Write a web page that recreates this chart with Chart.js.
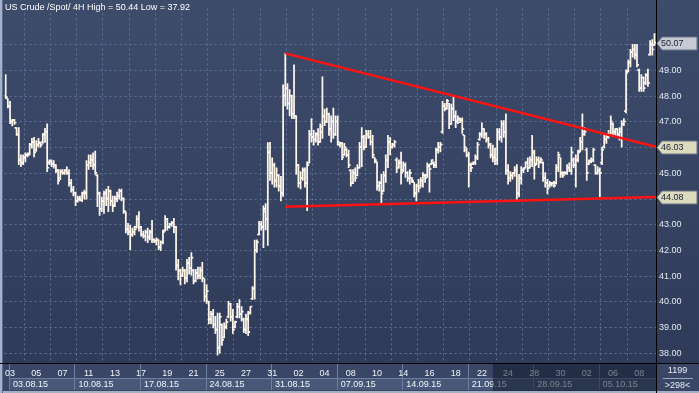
<!DOCTYPE html>
<html>
<head>
<meta charset="utf-8">
<script src="https://cdn.jsdelivr.net/npm/chart.js@4.4.0/dist/chart.umd.min.js"></script>
<style>
  html, body { margin: 0; padding: 0; background: #36435f; }
  #wrap { width: 699px; height: 393px; position: relative; }
</style>
</head>
<body>
<div id="wrap"><canvas id="grafik"></canvas></div>
<script>
// 4H bars: 2 bars of 31.07, then 6 bars per trading day
const preBars = 2;
const barsPerDay = 6;

const dayNames = ["03","04","05","06","07","10","11","12","13","14","17","18","19","20","21",
  "24","25","26","27","28","31","01","02","03","04","07","08","09","10","11",
  "14","15","16","17","18","21","22","23","24","25","28","29","30","01","02",
  "05","06","07","08"];
const weekNames = ["03.08.15","10.08.15","17.08.15","24.08.15","31.08.15",
  "07.09.15","14.09.15","21.09.15","28.09.15","05.10.15"];
const yTicks = [38, 39, 40, 41, 42, 43, 44, 45, 46, 47, 48, 49, 50];

const opens = [
48.00,47.90,47.60,47.00,47.05,46.75,46.50,45.50,45.40,45.60,
45.70,45.75,46.10,46.20,45.90,46.10,46.15,46.20,46.50,46.60,
45.40,45.45,45.35,45.30,45.10,44.80,45.05,45.00,45.10,45.00,
44.60,44.35,44.20,43.90,44.00,43.95,44.20,44.20,45.30,45.40,
45.50,45.30,44.90,44.20,43.60,43.90,44.20,44.00,44.30,43.90,
43.75,44.00,44.10,44.30,44.00,43.50,42.80,42.70,42.60,42.70,
42.90,43.20,42.90,42.60,42.55,42.70,42.50,42.70,42.40,42.35,
42.40,42.10,42.30,42.75,43.20,42.90,43.00,43.05,42.90,41.40,
41.20,41.00,41.20,40.90,41.50,41.30,41.20,40.80,41.10,41.00,
41.20,40.90,40.20,40.00,39.30,39.50,39.10,38.90,38.20,39.10,
38.60,39.00,39.40,39.90,39.40,39.00,39.40,39.80,39.50,39.30,
38.90,39.30,39.55,40.10,40.50,42.00,42.60,43.00,42.90,43.50,
43.20,45.80,45.00,45.30,44.70,44.90,44.50,44.20,48.00,48.30,
47.70,48.00,47.30,47.20,45.30,44.60,44.80,45.10,44.60,45.40,
46.50,46.40,46.30,46.50,46.20,46.60,47.20,47.00,47.30,46.70,
47.00,46.50,47.00,46.10,46.15,45.70,45.90,45.70,45.10,44.60,
45.00,44.90,45.20,46.00,46.40,46.00,46.50,46.40,46.20,45.60,
45.45,44.50,44.60,44.30,44.90,45.50,46.20,46.00,46.10,45.50,
45.20,45.40,45.10,45.30,45.00,44.80,44.80,44.65,44.20,44.50,
44.50,44.70,44.90,44.90,45.25,45.35,45.40,45.30,45.90,46.00,
46.60,47.60,47.50,47.70,46.90,47.50,47.20,47.00,47.10,47.05,
46.48,45.90,45.70,45.30,45.35,45.40,45.60,46.30,46.50,46.70,
46.50,46.30,46.10,45.70,45.60,45.50,46.60,46.40,46.90,46.60,
45.10,44.80,44.90,45.00,45.10,44.20,44.80,45.10,45.20,45.40,
45.20,45.50,45.80,45.35,45.50,45.45,45.40,44.80,44.60,44.50,
44.55,44.60,44.60,45.20,45.60,44.95,45.00,45.00,45.20,45.10,
45.50,45.30,45.50,45.85,46.20,46.60,45.90,45.35,45.45,45.50,
45.30,45.00,45.10,45.40,46.00,46.30,46.40,46.50,46.90,46.60,
46.70,46.50,46.60,46.90,47.40,48.95,49.30,49.70,49.80,49.60,
49.00,48.30,48.70,48.50,48.80,49.60,50.00,49.98
];
const highs = [
48.84,47.90,47.80,47.10,47.10,46.78,46.78,45.72,45.72,45.80,
45.80,46.17,46.36,46.40,46.28,46.36,46.20,46.55,46.75,46.93,
45.53,45.53,45.50,45.34,45.15,45.15,45.15,45.15,45.25,45.15,
44.77,44.50,44.27,44.12,44.12,44.27,44.35,45.50,45.72,45.72,
45.80,45.87,44.95,44.27,44.08,44.31,44.39,44.50,44.35,44.12,
44.12,44.27,44.39,44.39,44.05,43.50,43.06,42.98,42.87,42.94,
43.36,43.51,42.94,42.75,42.79,42.87,42.79,43.17,42.45,42.49,
42.41,42.37,42.79,43.36,43.25,43.06,43.13,43.25,42.94,41.65,
41.27,41.35,41.27,41.65,41.73,41.92,41.27,41.27,41.35,41.35,
41.54,40.90,40.66,40.02,39.63,39.71,39.44,39.56,39.56,39.14,
39.18,39.33,40.02,39.94,39.71,39.25,39.94,40.09,39.82,39.37,
39.52,39.63,39.82,40.59,42.40,42.41,43.13,43.13,43.74,43.82,
46.20,46.21,45.60,45.40,45.22,44.95,44.88,48.45,49.67,48.49,
48.26,48.05,49.22,47.25,45.35,45.07,45.22,45.22,45.45,46.67,
47.13,46.67,46.59,46.74,46.93,48.76,47.50,47.54,47.35,47.24,
47.54,47.24,47.24,46.21,46.21,46.17,45.98,45.91,45.15,45.15,
45.22,45.34,46.21,46.78,46.48,46.67,46.67,46.67,46.48,45.60,
45.45,44.69,44.96,45.07,45.72,46.48,46.40,46.17,46.29,45.60,
45.53,45.83,45.45,45.41,45.07,45.15,44.84,44.65,44.58,44.77,
44.84,45.03,44.96,45.41,45.34,45.53,45.45,45.98,46.21,46.21,
47.80,47.73,47.88,47.73,47.70,48.00,47.43,47.24,47.16,47.16,
46.48,45.98,45.83,45.41,45.45,45.72,46.21,46.59,46.97,46.74,
46.59,46.40,46.17,46.10,45.98,46.74,46.74,47.05,47.05,47.32,
45.34,45.07,45.03,45.26,45.34,44.96,45.26,45.22,45.45,45.60,
45.64,46.48,45.91,45.64,45.64,45.60,45.45,45.03,44.77,44.69,
44.65,44.69,45.34,45.83,45.60,45.07,45.07,45.34,45.41,46.02,
45.60,45.72,45.91,46.40,47.32,46.78,45.98,45.53,45.60,45.98,
45.34,45.26,45.22,46.02,46.48,46.55,46.67,47.24,46.97,46.74,
46.74,46.78,47.05,47.13,49.03,49.41,49.83,50.02,50.02,50.02,
49.06,48.84,48.76,48.88,49.06,50.17,50.21,50.44
];
const lows = [
47.92,47.55,46.93,46.85,46.90,46.48,45.34,45.26,45.34,45.45,
45.64,45.72,45.98,45.64,45.85,46.02,46.02,46.17,46.20,45.07,
45.34,45.26,45.20,45.03,44.58,44.75,44.96,44.96,44.96,44.50,
44.27,44.12,43.74,43.88,43.93,43.90,44.00,44.00,45.15,45.26,
45.15,44.96,43.70,43.36,43.51,43.44,43.74,43.51,43.74,43.51,
43.70,43.90,44.00,43.93,43.44,42.68,42.60,42.03,42.55,42.60,
42.87,42.75,42.56,42.49,42.37,42.30,42.41,42.30,42.30,42.22,
42.03,41.99,42.25,42.75,42.79,42.87,42.94,42.68,41.23,40.85,
40.66,40.98,40.70,40.78,41.08,41.04,40.70,40.78,40.89,40.89,
40.78,40.02,39.94,39.14,39.14,38.99,38.76,37.92,38.00,38.30,
38.60,38.95,39.37,39.25,38.76,38.99,39.37,39.37,39.25,38.80,
38.76,38.68,39.52,40.09,40.10,41.92,42.60,42.79,42.11,42.80,
42.20,44.73,44.58,44.46,44.46,44.31,43.93,44.10,47.62,47.50,
47.24,47.13,47.13,44.96,44.46,44.39,44.73,44.46,43.55,45.40,
46.21,46.10,46.21,46.10,46.20,46.36,46.86,46.97,46.48,46.21,
46.36,46.48,46.10,46.02,45.53,45.70,45.64,45.22,44.50,44.60,
44.69,44.90,45.20,45.26,45.91,46.00,46.36,46.10,45.60,45.41,
44.35,44.31,43.82,44.30,44.65,45.22,45.72,45.98,46.02,45.03,
45.20,44.58,45.07,44.84,44.69,44.58,44.65,44.08,43.93,44.27,
44.46,44.46,44.65,44.84,44.27,45.34,45.22,45.22,45.79,45.83,
46.55,47.43,47.50,46.74,46.90,47.05,46.78,46.93,46.97,46.55,
45.83,45.64,44.46,45.07,45.34,45.34,45.53,46.29,46.40,46.36,
46.21,45.98,45.60,45.45,45.34,45.34,46.29,46.21,46.40,44.96,
44.58,44.69,44.77,44.88,43.90,44.08,44.58,45.03,45.20,45.07,
45.20,45.26,44.77,45.34,45.22,45.41,44.69,44.46,44.20,44.46,
44.50,44.46,44.58,45.07,44.84,44.84,44.96,44.96,45.07,44.96,
45.22,44.46,45.45,45.83,45.91,46.48,44.73,45.34,45.41,45.45,
44.96,44.96,44.08,45.34,45.98,46.17,46.36,46.48,46.48,46.48,
46.40,46.29,46.02,46.86,47.35,48.95,49.14,49.52,49.44,49.14,
48.19,48.19,48.19,48.45,48.38,49.60,49.60,49.98
];
const closes = [
47.95,47.60,47.00,47.05,46.95,46.50,45.50,45.40,45.60,45.70,
45.70,46.10,46.20,45.80,46.10,46.20,46.10,46.50,46.60,45.20,
45.45,45.35,45.30,45.10,44.70,45.05,45.00,45.10,45.00,44.60,
44.35,44.20,43.90,44.00,43.95,44.20,44.25,45.30,45.40,45.50,
45.30,45.00,44.20,43.60,43.90,44.20,44.00,44.30,43.90,43.70,
44.00,44.10,44.30,44.00,43.50,42.80,42.70,42.60,42.70,42.80,
43.20,42.90,42.60,42.55,42.70,42.50,42.70,42.40,42.35,42.40,
42.10,42.30,42.70,43.20,42.90,43.00,43.05,42.90,41.40,41.20,
41.00,41.20,40.90,41.50,41.30,41.70,40.80,41.10,41.00,41.20,
40.90,40.20,40.40,39.30,39.50,39.10,38.90,38.20,39.40,38.50,
39.00,39.20,39.90,39.40,38.90,39.20,39.80,39.50,39.60,38.90,
39.30,38.80,39.80,40.50,42.00,42.30,43.00,42.90,43.60,43.20,
45.80,45.00,45.30,44.70,44.90,44.50,44.20,48.00,48.30,47.70,
48.00,47.30,47.20,45.30,44.60,44.80,45.10,44.60,45.30,46.50,
46.40,46.30,46.50,46.20,46.80,47.20,47.00,47.30,46.70,47.00,
46.50,47.00,46.20,46.15,45.60,46.00,45.70,45.30,44.60,45.00,
44.80,45.20,46.00,46.40,46.00,46.50,46.40,46.20,45.70,45.50,
44.50,44.60,44.20,44.90,45.50,46.20,46.00,46.10,46.20,45.20,
45.40,45.00,45.30,45.00,44.80,45.00,44.70,44.20,44.50,44.40,
44.70,44.90,44.80,45.30,45.15,45.50,45.30,45.90,46.00,46.10,
47.60,47.50,47.80,46.90,47.50,47.20,47.00,47.10,47.05,46.70,
46.00,45.70,45.30,45.20,45.40,45.60,46.10,46.50,46.70,46.50,
46.30,46.10,45.70,45.60,45.50,46.60,46.40,46.90,46.60,45.10,
44.80,44.90,45.00,45.10,44.20,44.80,45.10,45.15,45.40,45.20,
45.50,45.80,45.30,45.50,45.40,45.50,44.80,44.60,44.40,44.60,
44.60,44.50,45.20,45.70,45.00,44.90,45.00,45.20,45.10,45.80,
45.30,45.50,45.80,46.20,46.50,46.60,45.00,45.45,45.50,45.90,
45.00,45.10,45.00,45.90,46.30,46.40,46.50,47.00,46.60,46.70,
46.50,46.70,46.90,47.00,48.90,49.30,49.70,49.80,49.60,49.20,
48.30,48.70,48.30,48.80,48.50,50.00,49.80,50.07
];

// bar index range of the view, and price range
const xMin = -0.5;
const xMax = 297.7;
const yMin = 37.62;
const yMax = 51.42;

// hand drawn trend lines: [bar index, price]
const trendUpper = [[128, 49.67], [xMax, 46.03]];
const trendLower = [[128, 43.70], [xMax, 44.08]];

const shadeFromBar = 223;
const cornerTop = "1199";

const idx = opens.map((v, i) => i);

const dayTicks = [];
const gridTicks = [];
dayNames.forEach((d, k) => {
  if (k % 2 === 0) dayTicks.push({ value: preBars + k * barsPerDay, label: d });
  else gridTicks.push(preBars + k * barsPerDay + 0.5);
});
const weekTicks = weekNames.map((w, n) => ({ value: preBars + n * 5 * barsPerDay - 0.5, label: w }));

const barStyle = {
  backgroundColor: "#fff6ec",
  borderWidth: 0,
  barThickness: 1.1,
  minBarLength: 1,
  grouped: true,
  xAxisID: "x",
  yAxisID: "y",
  order: 1,
};

const gridColor = "#5f7196";
const labelFont = { family: "'Liberation Sans', Arial, sans-serif", size: 9 };

function tag(ctx, ys, x0, right, value, fill) {
  const y = Math.round(ys.getPixelForValue(value)) + 0.5;
  ctx.beginPath();
  ctx.moveTo(x0 + 1, y);
  ctx.lineTo(x0 + 6, y - 6.5);
  ctx.lineTo(right - 2, y - 6.5);
  ctx.lineTo(right - 2, y + 6.5);
  ctx.lineTo(x0 + 6, y + 6.5);
  ctx.closePath();
  ctx.fillStyle = fill;
  ctx.fill();
  ctx.strokeStyle = "#6d7588";
  ctx.lineWidth = 1;
  ctx.stroke();
  ctx.fillStyle = "#18203a";
  ctx.font = "9px 'Liberation Sans', Arial, sans-serif";
  ctx.textAlign = "left";
  ctx.textBaseline = "middle";
  ctx.fillText(value.toFixed(2), x0 + 5, y);
}

const frame = {
  id: "frame",
  beforeDraw(chart) {
    const { ctx, chartArea: a, width, height } = chart;
    const wk = chart.scales.wk;
    const days = chart.scales.days;
    ctx.save();
    const g = ctx.createLinearGradient(0, 0, 0, a.bottom);
    g.addColorStop(0, "#3e4c6c");
    g.addColorStop(1, "#2f3b58");
    ctx.fillStyle = g;
    ctx.fillRect(0, 0, width, a.bottom);
    // date strip
    ctx.fillStyle = "#394666";
    ctx.fillRect(0, a.bottom, width, height - a.bottom);
    ctx.lineWidth = 1;
    weekTicks.forEach((t, n) => {
      const x0 = Math.round(wk.getPixelForValue(t.value));
      const x1 = n + 1 < weekTicks.length ? Math.round(wk.getPixelForValue(weekTicks[n + 1].value)) : Math.round(a.right);
      ctx.fillStyle = "#485878";
      ctx.fillRect(x0 + 1, wk.top, x1 - x0 - 1, wk.bottom - wk.top - 3);
      ctx.strokeStyle = "#6e7fa2";
      ctx.beginPath();
      ctx.moveTo(x0 + 0.5, days.top + 1);
      ctx.lineTo(x0 + 0.5, wk.bottom - 3);
      ctx.moveTo(x0 + 1, wk.top + 0.5);
      ctx.lineTo(x1, wk.top + 0.5);
      ctx.stroke();
    });
    ctx.fillStyle = "#a3afc4";
    ctx.fillRect(0, height - 2, width, 2);
    ctx.fillStyle = "#a4b2ca";
    ctx.fillRect(0, 0, 2, height);
    ctx.fillStyle = "#5d6c8c";
    ctx.fillRect(2, 0, 1, height);
    ctx.restore();
  },
  afterDraw(chart) {
    const { ctx, chartArea: a, width, height } = chart;
    const ys = chart.scales.y;
    const xs = chart.scales.x;
    ctx.save();
    // darker part of the date strip
    const sx = xs.getPixelForValue(shadeFromBar);
    ctx.fillStyle = "rgba(18,25,44,0.55)";
    ctx.fillRect(sx, a.bottom + 1, a.right - sx, height - a.bottom - 3);
    // separators
    ctx.strokeStyle = "#000";
    ctx.lineWidth = 1;
    ctx.beginPath();
    ctx.moveTo(0, Math.round(a.bottom) + 0.5);
    ctx.lineTo(width, Math.round(a.bottom) + 0.5);
    ctx.moveTo(Math.round(a.right) + 0.5, 0);
    ctx.lineTo(Math.round(a.right) + 0.5, height);
    ctx.stroke();
    // title
    ctx.font = "9px 'Liberation Sans', Arial, sans-serif";
    ctx.fillStyle = "#ffffff";
    ctx.textAlign = "left";
    ctx.textBaseline = "middle";
    const hi = Math.max(...highs).toFixed(2);
    const lo = Math.min(...lows).toFixed(2);
    ctx.fillText("US Crude /Spot/ 4H High = " + hi + " Low = " + lo, 5, 8);
    // price tags
    const xr = Math.round(a.right);
    tag(ctx, ys, xr, width, trendUpper[1][1], "#dcd9bd");
    tag(ctx, ys, xr, width, trendLower[1][1], "#dcd9bd");
    tag(ctx, ys, xr, width, closes[closes.length - 1], "#c6cad3");
    // corner box
    const cx = (xr + width) / 2;
    ctx.fillStyle = "#e8ecf4";
    ctx.textAlign = "center";
    ctx.fillText(cornerTop, cx, a.bottom + 8);
    ctx.fillText(">" + closes.length + "<", cx, a.bottom + 23);
    ctx.strokeStyle = "#9aa8c0";
    ctx.beginPath();
    ctx.moveTo(xr + 7, a.bottom + 15.5);
    ctx.lineTo(width - 6, a.bottom + 15.5);
    ctx.stroke();
    ctx.restore();
  },
};

new Chart(document.getElementById("grafik"), {
  type: "bar",
  data: {
    labels: idx,
    datasets: [
      { label: "Open", data: opens.map((v) => [v, v]), ...barStyle },
      { label: "Range", data: lows.map((v, i) => [v, highs[i]]), ...barStyle },
      { label: "Close", data: closes.map((v) => [v, v]), ...barStyle },
      {
        type: "line",
        label: "Upper",
        data: trendUpper.map(([x, y]) => ({ x, y })),
        borderColor: "#ff1212",
        borderWidth: 2.5,
        pointRadius: 0,
        tension: 0,
        xAxisID: "x",
        yAxisID: "y",
        order: 0,
      },
      {
        type: "line",
        label: "Lower",
        data: trendLower.map(([x, y]) => ({ x, y })),
        borderColor: "#ff1212",
        borderWidth: 2.5,
        pointRadius: 0,
        tension: 0,
        xAxisID: "x",
        yAxisID: "y",
        order: 0,
      },
    ],
  },
  options: {
    responsive: true,
    maintainAspectRatio: false,
    animation: false,
    layout: { padding: { left: 3, top: 0, right: 0, bottom: 0 } },
    plugins: {
      legend: { display: false },
      tooltip: { enabled: false },
    },
    scales: {
      x: {
        type: "linear",
        position: "bottom",
        min: xMin,
        max: xMax,
        offset: false,
        weight: 0,
        grid: { color: gridColor, drawTicks: false, offset: false },
        border: { display: false, dash: [2, 3] },
        ticks: { display: false },
        afterBuildTicks: (s) => { s.ticks = gridTicks.map((v) => ({ value: v })); },
        afterFit: (s) => { s.height = 0; },
      },
      days: {
        type: "linear",
        position: "bottom",
        min: xMin,
        max: xMax,
        offset: false,
        weight: 1,
        grid: { display: false, drawTicks: false, offset: false },
        border: { display: false },
        ticks: {
          color: "#f2f5fa",
          font: labelFont,
          padding: 5,
          autoSkip: false,
          maxRotation: 0,
          callback: (v) => (dayTicks.find((t) => t.value === v) || {}).label,
        },
        afterBuildTicks: (s) => { s.ticks = dayTicks.map((t) => ({ value: t.value })); },
        afterFit: (s) => { s.height = 15; },
      },
      wk: {
        type: "linear",
        position: "bottom",
        min: xMin,
        max: xMax,
        offset: false,
        weight: 2,
        grid: { display: false, drawTicks: false, offset: false },
        border: { display: false },
        ticks: {
          color: "#f2f5fa",
          font: labelFont,
          padding: 1,
          align: "start",
          labelOffset: 4,
          autoSkip: false,
          maxRotation: 0,
          callback: (v) => (weekTicks.find((t) => t.value === v) || {}).label,
        },
        afterBuildTicks: (s) => { s.ticks = weekTicks.map((t) => ({ value: t.value })); },
        afterFit: (s) => { s.height = 15; },
      },
      y: {
        position: "right",
        min: yMin,
        max: yMax,
        grid: { color: gridColor, drawTicks: false },
        border: { display: false, dash: [2, 3] },
        ticks: {
          color: "#e4e9f2",
          font: labelFont,
          padding: 3,
          callback: (v) => Number(v).toFixed(2),
        },
        afterBuildTicks: (s) => { s.ticks = yTicks.map((v) => ({ value: v })); },
        afterFit: (s) => { s.width = 43; },
      },
    },
  },
  plugins: [frame],
});
</script>
</body>
</html>
